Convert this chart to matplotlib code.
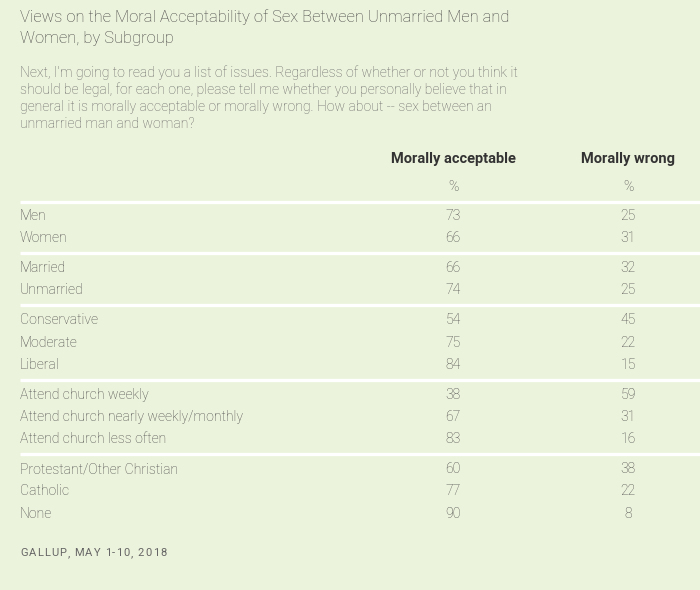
import matplotlib
matplotlib.use('Agg')
import matplotlib.pyplot as plt

title = 'Views on the Moral Acceptability of Sex Between Unmarried Men and\nWomen, by Subgroup'
question = ("Next, I'm going to read you a list of issues. Regardless of whether or not you think it\n"
            "should be legal, for each one, please tell me whether you personally believe that in\n"
            "general it is morally acceptable or morally wrong. How about -- sex between an\n"
            "unmarried man and woman?")
columns = ['Morally acceptable', 'Morally wrong']
source = 'GALLUP, MAY 1-10, 2018'

# subgroups, split into blocks
groups = [
    ['Men', 'Women'],
    ['Married', 'Unmarried'],
    ['Conservative', 'Moderate', 'Liberal'],
    ['Attend church weekly', 'Attend church nearly weekly/monthly', 'Attend church less often'],
    ['Protestant/Other Christian', 'Catholic', 'None'],
]
acceptable = [[73, 66], [66, 74], [54, 75, 84], [38, 67, 83], [60, 77, 90]]
wrong = [[25, 31], [32, 25], [45, 22, 15], [59, 31, 16], [38, 22, 8]]

bg = '#ecf3dc'
txt = '#4a4a4a'
grey = '#666666'
plt.rcParams['font.family'] = ['Roboto', 'DejaVu Sans']

fig = plt.figure(figsize=(7, 5.9), dpi=100, facecolor=bg)
ax = fig.add_axes([0, 0, 1, 1])
ax.set_facecolor(bg)
ax.set_xlim(0, 700)
ax.set_ylim(590, 0)
ax.axis('off')

left = 20
col_x = [453, 628]
fs = 10.1

ax.text(left, 9, title, fontsize=11.85, color='#444444', va='top', ha='left',
        fontweight='light', linespacing=1.5)
ax.text(left, 65, question, fontsize=10.1, color=grey, va='top', ha='left',
        fontweight='light', linespacing=1.26)

for cx, name in zip(col_x, columns):
    ax.text(cx, 159, name, fontsize=10.5, color='#333333', fontweight='bold', ha='center', va='center')
    ax.text(cx, 187, '%', fontsize=fs, color=txt, fontweight='light', ha='center', va='center')

ax.hlines(202, left, 700, color='white', lw=2.3)

y = 216
for gi, labels in enumerate(groups):
    for li, lab in enumerate(labels):
        ax.text(left, y, lab, fontsize=fs, color=txt, fontweight='light', ha='left', va='center')
        ax.text(col_x[0], y, str(acceptable[gi][li]), fontsize=fs, color=txt,
                fontweight='light', ha='center', va='center')
        ax.text(col_x[1], y, str(wrong[gi][li]), fontsize=fs, color=txt,
                fontweight='light', ha='center', va='center')
        y += 22.2
    if gi < len(groups) - 1:
        ax.hlines(y - 22.2 + 15, left, 700, color='white', lw=2.3)
        y += 30 - 22.2

# source line with letter spacing, one character at a time
fig.canvas.draw()
r = fig.canvas.get_renderer()
x = left
for ch in source:
    t = ax.text(x, 553, ch, fontsize=8, color=grey, ha='left', va='center')
    w = t.get_window_extent(r).width if ch != ' ' else 2.2
    x += w + 1.15

fig.savefig('out.png', dpi=100, facecolor=bg)
